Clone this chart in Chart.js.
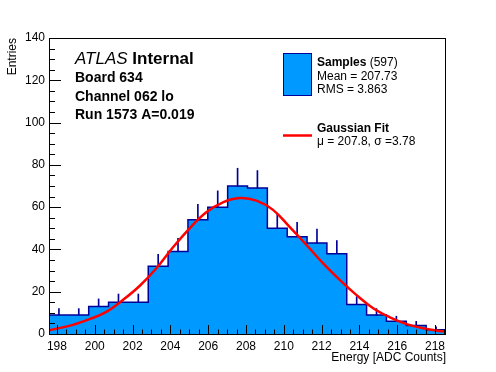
<!DOCTYPE html>
<html>
<head>
<meta charset="utf-8">
<script src="https://cdn.jsdelivr.net/npm/chart.js@4.4.1/dist/chart.umd.min.js"></script>
<style>
  html, body { margin: 0; padding: 0; background: #fff; }
  #wrap { width: 496px; height: 372px; }
</style>
</head>
<body>
<div id="wrap"><canvas id="histChart" width="496" height="372"></canvas></div>
<script>
// histogram bins (ADC counts) and entries per bin
const binEdges = [197.58, 198.63, 199.68, 200.73, 201.78, 202.83, 203.88, 204.93, 205.98, 207.03,
  208.08, 209.13, 210.18, 211.23, 212.28, 213.33, 214.38, 215.43, 216.48, 217.53, 218.58];
const counts = [9, 9, 13, 15, 15, 32, 39, 54, 60, 70, 69, 50, 46, 43, 38, 14, 9, 6, 4, 2];
const errors = [3, 3, 3.6, 3.9, 3.9, 5.7, 6.2, 7.3, 7.7, 8.4, 8.3, 7.1, 6.8, 6.6, 6.2, 3.7, 3, 2.4, 2, 1.4];

// gaussian fit curve
const fitX = [197.6, 198.84, 199.72, 200.61, 201.49, 202.37, 203.26, 204.14, 205.02, 205.9, 206.78,
  207.67, 208.55, 209.43, 210.32, 211.2, 212.08, 212.97, 213.85, 214.73, 215.61, 216.5, 217.37, 218.26, 218.58];
const fitY = [1.8, 4.3, 7.0, 10.5, 16.1, 22.7, 31.1, 41.0, 50.0, 57.6, 62.3,
  64.3, 63.1, 58.7, 50.5, 42.1, 33.4, 25.5, 18.4, 12.2, 7.9, 4.7, 2.7, 1.4, 1.2];

const xTickValues = [198, 200, 202, 204, 206, 208, 210, 212, 214, 216, 218];
const yTickValues = [0, 20, 40, 60, 80, 100, 120, 140];

const infoLines = ["Board 634", "Channel 062 lo", "Run 1573 A=0.019"];
const sampleStats = ["Mean = 207.73", "RMS = 3.863"];
const fitLabel = "\u03bc = 207.8, \u03c3 =3.78";

const FILL_BLUE = "#0099ff";
const LINE_BLUE = "#000099";
const FONT = '"Liberation Sans", Arial, Helvetica, sans-serif';

function buildHistogramPoints() {
  const points = [{ x: binEdges[0], y: 0 }];
  counts.forEach((count, i) => points.push({ x: binEdges[i], y: count }));
  points.push({ x: binEdges[binEdges.length - 1], y: counts[counts.length - 1] });
  points.push({ x: binEdges[binEdges.length - 1], y: 0 });
  return points;
}

function buildErrorBars() {
  return counts.map((count, i) => ({
    x: (binEdges[i] + binEdges[i + 1]) / 2,
    y: [count, count + errors[i]]
  }));
}

const frameAndText = {
  id: "frameAndText",
  afterDraw(chart) {
    const { ctx, chartArea: area, scales } = chart;
    const x = scales.x;
    const y = scales.y;
    ctx.save();
    ctx.strokeStyle = "#000";
    ctx.lineWidth = 1;

    // ROOT style ticks, inside the frame
    ctx.beginPath();
    for (let k = -1; k <= 42; k++) {
      const v = 198 + k * 0.5;
      if (v < x.min || v > x.max) continue;
      const px = Math.round(x.getPixelForValue(v)) + 0.5;
      const len = k % 4 === 0 ? 9 : 4.5;
      ctx.moveTo(px, area.bottom);
      ctx.lineTo(px, area.bottom - len);
    }
    for (let v = 0; v <= 140; v += 5) {
      const py = Math.round(y.getPixelForValue(v)) + 0.5;
      const len = v % 20 === 0 ? 12 : 6;
      ctx.moveTo(area.left, py);
      ctx.lineTo(area.left + len, py);
    }
    ctx.stroke();

    ctx.strokeRect(area.left + 0.5, area.top + 0.5, area.right - area.left - 1, area.bottom - area.top);

    // ATLAS label block
    ctx.fillStyle = "#000";
    ctx.textBaseline = "alphabetic";
    ctx.textAlign = "left";
    ctx.font = "italic 17px " + FONT;
    ctx.fillText("ATLAS", 75, 64);
    const atlasWidth = ctx.measureText("ATLAS ").width;
    ctx.font = "bold 17px " + FONT;
    ctx.fillText("Internal", 75 + atlasWidth, 64);
    ctx.font = "bold 14px " + FONT;
    infoLines.forEach((line, i) => ctx.fillText(line, 75, 82 + i * 18.5));

    // legend
    ctx.fillStyle = FILL_BLUE;
    ctx.fillRect(283, 53, 29, 43);
    ctx.strokeStyle = LINE_BLUE;
    ctx.strokeRect(283.5, 53.5, 28, 42);

    ctx.fillStyle = "#000";
    ctx.font = "bold 12px " + FONT;
    ctx.fillText("Samples", 317, 66);
    const samplesWidth = ctx.measureText("Samples").width;
    ctx.font = "12px " + FONT;
    ctx.fillText(" (597)", 317 + samplesWidth, 66);
    sampleStats.forEach((line, i) => ctx.fillText(line, 317, 80 + i * 13));

    ctx.strokeStyle = "#ff0000";
    ctx.lineWidth = 2.5;
    ctx.beginPath();
    ctx.moveTo(283, 135.5);
    ctx.lineTo(312, 135.5);
    ctx.stroke();

    ctx.font = "bold 12px " + FONT;
    ctx.fillText("Gaussian Fit", 317, 132);
    ctx.font = "12px " + FONT;
    ctx.fillText(fitLabel, 317, 145);
    ctx.restore();
  }
};

new Chart(document.getElementById("histChart"), {
  data: {
    datasets: [
      {
        type: "line",
        data: fitX.map((v, i) => ({ x: v, y: fitY[i] })),
        borderColor: "#ff0000",
        borderWidth: 2.5,
        pointRadius: 0,
        tension: 0.4,
        fill: false,
        order: 0
      },
      {
        type: "bar",
        data: buildErrorBars(),
        backgroundColor: LINE_BLUE,
        borderWidth: 0,
        barThickness: 1,
        order: 1
      },
      {
        type: "line",
        data: buildHistogramPoints(),
        stepped: "before",
        borderColor: LINE_BLUE,
        borderWidth: 1.5,
        backgroundColor: FILL_BLUE,
        fill: "origin",
        pointRadius: 0,
        order: 2
      }
    ]
  },
  options: {
    responsive: false,
    devicePixelRatio: 1,
    animation: false,
    layout: { padding: { top: 38, right: 50, left: 0, bottom: 0 } },
    plugins: {
      legend: { display: false },
      tooltip: { enabled: false }
    },
    scales: {
      x: {
        type: "linear",
        min: binEdges[0],
        max: binEdges[binEdges.length - 1],
        offset: false,
        grid: { display: false, drawTicks: false },
        border: { display: false },
        afterBuildTicks: (axis) => { axis.ticks = xTickValues.map((v) => ({ value: v })); },
        afterFit: (axis) => { axis.height = 38; },
        ticks: {
          color: "#000",
          font: { family: FONT, size: 12 },
          padding: 5,
          maxRotation: 0,
          autoSkip: false
        },
        title: {
          display: true,
          text: "Energy [ADC Counts]",
          align: "end",
          color: "#000",
          font: { family: FONT, size: 12 },
          padding: { top: 0, bottom: 7 }
        }
      },
      y: {
        type: "linear",
        min: 0,
        max: 140,
        grid: { display: false, drawTicks: false },
        border: { display: false },
        afterBuildTicks: (axis) => { axis.ticks = yTickValues.map((v) => ({ value: v })); },
        afterFit: (axis) => { axis.width = 49; },
        ticks: {
          color: "#000",
          font: { family: FONT, size: 12 },
          padding: 4
        },
        title: {
          display: true,
          text: "Entries",
          align: "end",
          color: "#000",
          font: { family: FONT, size: 12 },
          padding: { top: 5, bottom: 0 }
        }
      }
    }
  },
  plugins: [frameAndText]
});
</script>
</body>
</html>
